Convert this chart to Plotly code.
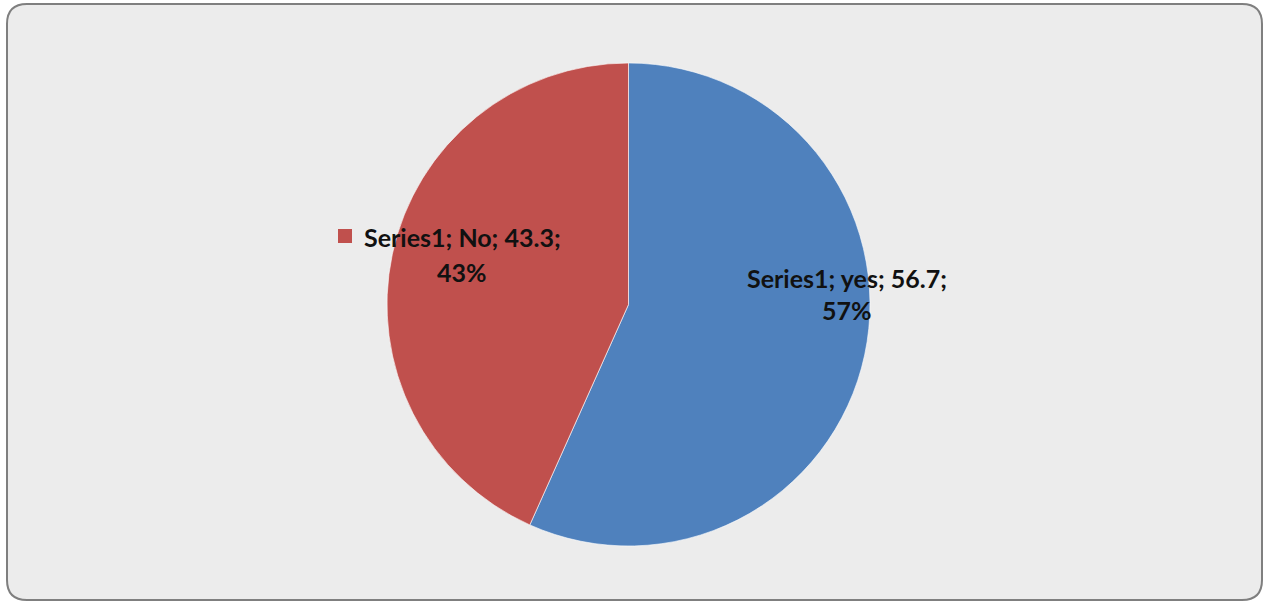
import plotly.graph_objects as go

# Survey answers for Series1
series_name = "Series1"
categories = ["yes", "No"]
values = [56.7, 43.3]
colors = ["#4F81BD", "#C0504D"]

W, H = 1265, 602
cx, cy, r = 628.5, 304.5, 241.5

total = sum(values)
pcts = [round(v / total * 100) for v in values]

fig = go.Figure()

fig.add_trace(go.Pie(
    labels=categories,
    values=values,
    sort=False,
    direction="clockwise",
    rotation=0,
    marker=dict(colors=colors, line=dict(color="rgba(255,255,255,0.6)", width=1)),
    textinfo="none",
    hoverinfo="label+value+percent",
    showlegend=False,
    domain=dict(x=[(cx - r) / W, (cx + r) / W],
                y=[(H - cy - r) / H, (H - cy + r) / H]),
))

# Hidden pixel-space axes for the frame and the legend key
fig.update_layout(
    xaxis=dict(range=[0, W], visible=False, fixedrange=True),
    yaxis=dict(range=[H, 0], visible=False, fixedrange=True),
)
fig.add_trace(go.Scatter(x=[0], y=[0], mode="markers",
                         marker=dict(opacity=0), hoverinfo="skip", showlegend=False))

x0, y0, x1, y1, rad = 7, 4, 1262, 600, 20
frame = (f"M {x0+rad},{y0} L {x1-rad},{y0} Q {x1},{y0} {x1},{y0+rad} "
         f"L {x1},{y1-rad} Q {x1},{y1} {x1-rad},{y1} "
         f"L {x0+rad},{y1} Q {x0},{y1} {x0},{y1-rad} "
         f"L {x0},{y0+rad} Q {x0},{y0} {x0+rad},{y0} Z")
fig.add_shape(type="path", path=frame, xref="x", yref="y", layer="below",
              fillcolor="#ECECEC", line=dict(color="#7F7F7F", width=2))

# Legend key beside the "No" label
fig.add_shape(type="rect", x0=338, y0=229, x1=352, y1=243, xref="x", yref="y",
              fillcolor=colors[1], line=dict(width=0))

font = dict(family="Lato, Calibri, sans-serif", size=25, color="#111111")

def label(text, x, y):
    fig.add_annotation(x=x, y=y, xref="x", yref="y", text=f"<b>{text}</b>",
                       showarrow=False, font=font, xanchor="center", yanchor="middle")

label(f"{series_name}; {categories[1]}; {values[1]};", 462, 237)
label(f"{pcts[1]}%", 462, 272)
label(f"{series_name}; {categories[0]}; {values[0]};", 847, 278)
label(f"{pcts[0]}%", 847, 310)

fig.update_layout(
    width=W, height=H,
    margin=dict(l=0, r=0, t=0, b=0),
    paper_bgcolor="white",
    plot_bgcolor="rgba(0,0,0,0)",
)

fig.write_html("out.html")
